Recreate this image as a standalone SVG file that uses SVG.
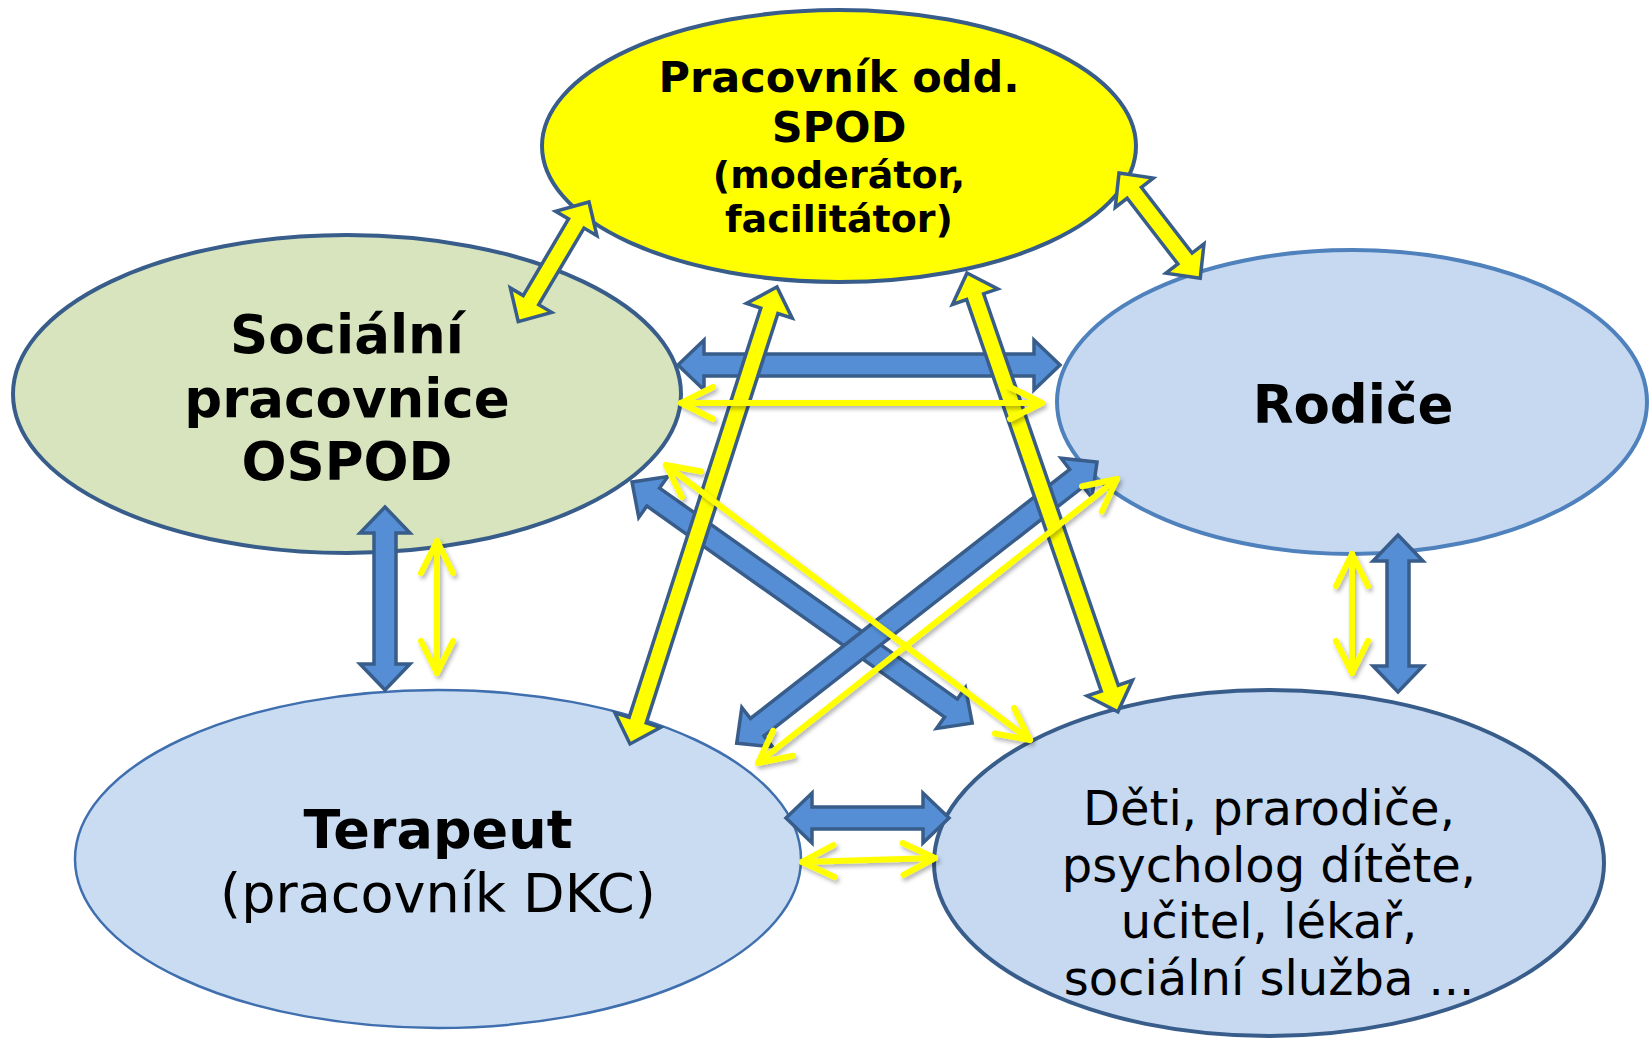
<svg xmlns="http://www.w3.org/2000/svg" width="1650" height="1038" viewBox="0 0 1650 1038">
<style>
.t{font-family:"DejaVu Sans","Liberation Sans",sans-serif;fill:#000;text-anchor:middle}
.b{font-weight:bold}
.blue{fill:#558ED5;stroke:#385D8A;stroke-width:3.5;stroke-linejoin:miter;stroke-miterlimit:10}
.yb{fill:#FFFF00;stroke:#385D8A;stroke-width:3.5;stroke-linejoin:miter;stroke-miterlimit:10}
.thin{fill:none;stroke:#FFFF00;stroke-width:6;stroke-linecap:round;marker-start:url(#chev);marker-end:url(#chev)}
</style>
<defs>
<marker id="chev" markerUnits="userSpaceOnUse" markerWidth="80" markerHeight="80" viewBox="-40 -40 80 80" refX="0" refY="0" orient="auto-start-reverse" overflow="visible">
<path d="M-32,-16 L0,0 L-32,16" fill="none" stroke="#FFFF00" stroke-width="6" stroke-linecap="round" stroke-linejoin="round"/>
</marker>
<filter id="sh" x="-10%" y="-10%" width="120%" height="120%">
<feDropShadow dx="2" dy="3" stdDeviation="2" flood-color="#000" flood-opacity="0.3"/>
</filter>
</defs>
<rect width="1650" height="1038" fill="#FFFFFF"/>

<g id="spod">
<ellipse cx="839" cy="146" rx="297" ry="136" fill="#FFFF00" stroke="#385D8A" stroke-width="4"/>
<text class="t b" x="839" y="92" font-size="43">Pracovník odd.</text>
<text class="t b" x="839" y="142" font-size="43">SPOD</text>
<text class="t b" x="839" y="188" font-size="38">(moderátor,</text>
<text class="t b" x="839" y="232" font-size="38">facilitátor)</text>
</g>

<g id="ospod">
<ellipse cx="347" cy="394" rx="334" ry="159" fill="#D7E4BD" stroke="#385D8A" stroke-width="4"/>
<text class="t b" x="347" y="353" font-size="53">Sociální</text>
<text class="t b" x="347" y="417" font-size="53">pracovnice</text>
<text class="t b" x="347" y="480" font-size="53">OSPOD</text>
</g>

<g id="rodice">
<ellipse cx="1352" cy="402" rx="295" ry="152" fill="#C6D9F1" stroke="#4F81BD" stroke-width="4"/>
<text class="t b" x="1353" y="423" font-size="53">Rodiče</text>
</g>

<g id="terapeut">
<ellipse cx="438" cy="859" rx="363" ry="169" fill="#C9DCF2" stroke="#3F6FAE" stroke-width="2.5"/>
<text class="t b" x="438" y="848" font-size="54">Terapeut</text>
<text class="t" x="438" y="912" font-size="54">(pracovník DKC)</text>
</g>

<g id="ostatni">
<ellipse cx="1269" cy="863" rx="335" ry="173" fill="#C6D9F1" stroke="#385D8A" stroke-width="4"/>
<text class="t" x="1269" y="825" font-size="48">Děti, prarodiče,</text>
<text class="t" x="1269" y="882" font-size="48">psycholog dítěte,</text>
<text class="t" x="1269" y="938" font-size="48">učitel, lékař,</text>
<text class="t" x="1269" y="995" font-size="48">sociální služba ...</text>
</g>

<g id="connectors">
<g id="blue-arrows">
<polygon class="blue" transform="translate(678 365)" points="0,0 26,-25 26,-11 356,-11 356,-25 382,0 356,25 356,11 26,11 26,25"/>
<polygon class="blue" transform="translate(632 482) rotate(35.33)" points="0,0 26,-25 26,-11 391,-11 391,-25 417,0 391,25 391,11 26,11 26,25"/>
<polygon class="blue" transform="translate(1097 462) rotate(142.03)" points="0,0 26,-25 26,-11 431,-11 431,-25 457,0 431,25 431,11 26,11 26,25"/>
<polygon class="blue" transform="translate(385 507) rotate(90)" points="0,0 26,-25 26,-11 157,-11 157,-25 183,0 157,25 157,11 26,11 26,25"/>
<polygon class="blue" transform="translate(1398 535) rotate(90)" points="0,0 26,-25 26,-11 131,-11 131,-25 157,0 131,25 131,11 26,11 26,25"/>
<polygon class="blue" transform="translate(786 818)" points="0,0 26,-25 26,-11 137,-11 137,-25 163,0 137,25 137,11 26,11 26,25"/>
</g>
<g id="yellow-block-arrows">
<polygon class="yb" transform="translate(589 202) rotate(120.6)" points="0,0 25,-24 25,-9 114,-9 114,-24 139,0 114,24 114,9 25,9 25,24"/>
<polygon class="yb" transform="translate(1119 173) rotate(52.35)" points="0,0 25,-24 25,-9 108,-9 108,-24 133,0 108,24 108,9 25,9 25,24"/>
<polygon class="yb" transform="translate(777 287) rotate(107.83)" points="0,0 25,-24 25,-9 455,-9 455,-24 480,0 455,24 455,9 25,9 25,24"/>
<polygon class="yb" transform="translate(967 273) rotate(71.02)" points="0,0 25,-24 25,-9 439,-9 439,-24 464,0 439,24 439,9 25,9 25,24"/>
</g>
<g id="yellow-thin-arrows" filter="url(#sh)">
<line class="thin" x1="681" y1="403" x2="1042" y2="403"/>
<line class="thin" x1="666" y1="465" x2="1030" y2="740"/>
<line class="thin" x1="1117" y1="479" x2="758" y2="763"/>
<line class="thin" x1="437" y1="541" x2="437" y2="673"/>
<line class="thin" x1="1352" y1="554" x2="1352" y2="673"/>
<line class="thin" x1="802" y1="862" x2="935" y2="858"/>
</g>
</g>
</svg>
